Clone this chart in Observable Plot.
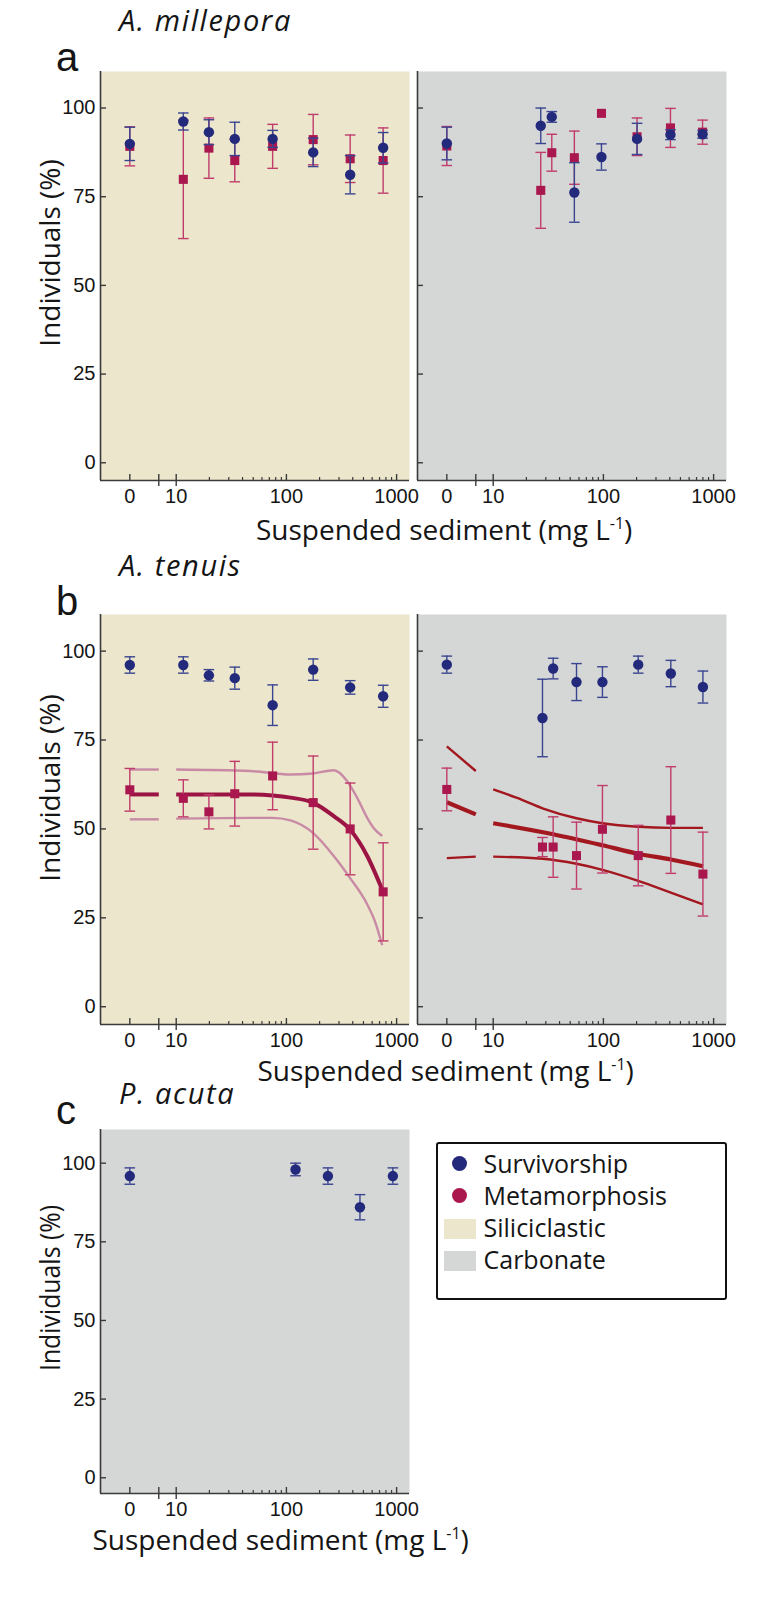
<!DOCTYPE html>
<html>
<head>
<meta charset="utf-8">
<script src="https://cdn.jsdelivr.net/npm/d3@7"></script>
<script src="https://cdn.jsdelivr.net/npm/@observablehq/plot@0.6"></script>
<style>
html,body{margin:0;padding:0;background:#fff;}
#root{position:relative;width:765px;height:1621px;overflow:hidden;background:#fff;}
.abs{position:absolute;white-space:nowrap;color:#151515;}
.title{font-family:"Open Sans",sans-serif;font-style:italic;font-size:29px;line-height:24px;letter-spacing:1.6px;}
.letter{font-family:"Liberation Sans",Arial,sans-serif;font-size:40px;line-height:32px;}
.ylab{font-family:"Open Sans",sans-serif;font-size:28px;line-height:28px;width:300px;height:28px;text-align:center;}
.xlab{font-family:"Open Sans",sans-serif;font-size:28px;line-height:20px;}
.xlab .sup{font-size:16px;position:relative;top:-11px;}
.plot{position:absolute;}
#legend{position:absolute;left:436px;top:1142px;width:291px;height:158px;box-sizing:border-box;border:2.5px solid #111;border-radius:3px;background:#fff;}
#legend .item{position:absolute;font-family:"Open Sans",sans-serif;font-size:25px;line-height:22px;white-space:nowrap;color:#151515;}
#legend .sw{position:absolute;}
</style>
</head>
<body>
<div id="root"></div>
<script>
// ---------------- data ----------------
const yTicks = [0, 25, 50, 75, 100];
const xTickValues = [0, 10, 100, 1000];
const xTickLabels = ["0", "10", "100", "1000"];
const xMinorValues = [20, 30, 40, 50, 60, 70, 80, 90, 200, 300, 400, 500, 600, 700, 800, 900];

// A. millepora — siliciclastic
const milSiliConc = [0, 11.6, 19.8, 34, 75, 175, 379, 755];
const milSiliSurv = [89.9, 96.2, 93.2, 91.3, 91.3, 87.5, 81.2, 88.8];
const milSiliSurvErr = [4.7, 2.4, 3.5, 4.7, 2.4, 4.0, 5.4, 4.3];
const milSiliMeta = [89.2, 79.9, 88.7, 85.2, 89.2, 91.1, 85.7, 85.2];
const milSiliMetaErr = [5.5, 16.7, 8.5, 6.0, 6.2, 7.1, 6.7, 9.2];

// A. millepora — carbonate
const milCarbConc = [0, 27, 34, 54.5, 96, 202, 406, 794];
const milCarbSurv = [90.0, 95.0, 97.5, 76.2, 86.2, 91.3, 92.5, 92.6];
const milCarbSurvErr = [4.6, 5.0, 1.5, 8.4, 3.7, 4.4, 1.4, 1.1];
const milCarbMeta = [89.3, 76.8, 87.4, 86.0, 98.5, 91.9, 94.4, 93.2];
const milCarbMetaErr = [5.5, 10.7, 5.2, 7.5, 0, 5.3, 5.5, 3.4];

// A. tenuis — siliciclastic
const tenSiliConc = [0, 11.6, 19.8, 34, 75, 175, 379, 755];
const tenSiliSurv = [96.1, 96.1, 93.2, 92.4, 84.8, 94.8, 89.8, 87.3];
const tenSiliSurvErr = [2.3, 2.3, 1.6, 3.1, 5.7, 3.0, 1.9, 3.1];
const tenSiliMeta = [61.0, 58.6, 54.8, 59.9, 64.9, 57.4, 50.0, 32.3];
const tenSiliMetaErr = [6.0, 5.2, 4.8, 9.1, 9.5, 13.1, 12.9, 13.8];

// A. tenuis — siliciclastic fitted curve and 95% bands
const tenSiliFitX = [0, "break", 10, 47, 75, 109, 174, 269, 376, 541, 750];
const tenSiliFitY = [59.7, 59.7, 59.7, 59.7, 59.4, 58.8, 57.4, 53.6, 49.9, 42.4, 32.5];
const tenSiliUpX = [0, "break", 10, 47, 109, 174, 269, 355, 438, 541, 621, 740];
const tenSiliUpY = [66.7, 66.7, 66.7, 66.3, 65.3, 65.6, 66.5, 63.5, 58.8, 53.1, 50.2, 48.0];
const tenSiliLoX = [0, "break", 10, 47, 75, 109, 174, 269, 376, 541, 643, 740];
const tenSiliLoY = [52.7, 52.7, 52.9, 53.1, 53.1, 52.4, 48.9, 42.4, 36.3, 28.8, 23.6, 17.3];

// A. tenuis — carbonate
const tenCarbConc = [0, 28, 35, 57, 98, 207, 409, 800];
const tenCarbSurv = [96.2, 81.2, 95.1, 91.3, 91.3, 96.2, 93.7, 89.9];
const tenCarbSurvErr = [2.4, 10.9, 2.9, 5.2, 4.3, 2.4, 3.7, 4.5];
const tenCarbMeta = [61.1, 44.9, 44.9, 42.5, 49.9, 42.5, 52.5, 37.3];
const tenCarbMetaErr = [6.0, 2.7, 8.5, 9.4, 12.3, 8.5, 15.0, 11.8];

// A. tenuis — carbonate fitted line and 95% bands
const tenCarbFitX = [0, "break", 10, 35, 98, 207, 409, 800];
const tenCarbFitY = [57.5, 54.1, 51.6, 48.5, 45.4, 43.0, 41.4, 39.5];
const tenCarbUpX = [0, "break", 10, 16.5, 28, 57, 98, 207, 409, 800];
const tenCarbUpY = [73.2, 66.3, 61.1, 58.7, 55.8, 53.0, 51.6, 50.6, 50.3, 50.3];
const tenCarbLoX = [0, "break", 10, 28, 57, 98, 207, 409, 800];
const tenCarbLoY = [41.8, 42.2, 42.2, 41.6, 40.2, 38.5, 35.4, 32.1, 28.8];

// P. acuta — carbonate
const acuConc = [0, 121, 238, 465, 925];
const acuSurv = [95.9, 98.0, 95.9, 86.0, 95.9];
const acuSurvErr = [2.6, 2.0, 2.6, 4.0, 2.6];

// legend
const legendItems = ["Survivorship", "Metamorphosis", "Siliciclastic", "Carbonate"];

// ---------------- styling ----------------
const SILI_BG = "#ebe6cc";
const CARB_BG = "#d5d6d6";
const NAVY = "#232a7c";
const NAVY_BAR = "#3a4590";
const CRIMSON = "#a9174e";
const CRIMSON_BAR = "#c03c6b";
const AXIS = "#3a3a3a";

// broken log axis: "0" sits left of a break, then log10 scale from 10 upward
const ZERO_POS = 0.579, BREAK_POS = 0.842;
const X_DOMAIN = [0.313, 3.117];
const pos = c => c === 0 ? ZERO_POS : c === "break" ? BREAK_POS : Math.log10(c);
const tickLabel = v => {
  let best = 0;
  xTickValues.forEach((t, i) => { if (Math.abs(pos(t) - v) < Math.abs(pos(xTickValues[best]) - v)) best = i; });
  return xTickLabels[best];
};

const capSymbol = {
  draw(ctx, size) { const r = Math.sqrt(size / Math.PI); ctx.moveTo(-r, 0); ctx.lineTo(r, 0); }
};

function rows(conc, mean, err) {
  return conc.map((c, i) => ({x: pos(c), y: mean[i], lo: mean[i] - err[i], hi: mean[i] + err[i], e: err[i]}));
}
function fitRows(xs, ys) {
  return xs.map((c, i) => ({x: pos(c), y: ys[i], seg: (c === 0 || c === "break") ? 0 : 1}));
}

function panel({bg, conc, surv, survErr, meta, metaErr, fits = [], yDomain, mt, areaH, ml, width, yText}) {
  const S = rows(conc, surv, survErr);
  const M = meta ? rows(conc, meta, metaErr) : [];
  const marks = [Plot.frame({fill: bg, stroke: "none"})];
  for (const f of fits) {
    marks.push(Plot.line(fitRows(f.x, f.y), {x: "x", y: "y", z: "seg", stroke: f.color, strokeWidth: f.width, curve: "monotone-x", strokeLinecap: "butt"}));
  }
  function errMarks(data, color) {
    const d = data.filter(r => r.e > 0);
    return [
      Plot.ruleX(d, {x: "x", y1: "lo", y2: "hi", stroke: color, strokeWidth: 1.4}),
      Plot.dot(d, {x: "x", y: "hi", symbol: capSymbol, r: 5.3, stroke: color, fill: "none", strokeWidth: 1.4}),
      Plot.dot(d, {x: "x", y: "lo", symbol: capSymbol, r: 5.3, stroke: color, fill: "none", strokeWidth: 1.4})
    ];
  }
  if (M.length) {
    marks.push(...errMarks(M, CRIMSON_BAR));
    marks.push(Plot.dot(M, {x: "x", y: "y", symbol: "square", r: 5.1, fill: CRIMSON, stroke: "none"}));
  }
  marks.push(...errMarks(S, NAVY_BAR));
  marks.push(Plot.dot(S, {x: "x", y: "y", symbol: "circle", r: 5.2, fill: NAVY, stroke: "none"}));

  // axes
  marks.push(
    Plot.ruleX([X_DOMAIN[0]], {stroke: AXIS, strokeWidth: 1.6}),
    Plot.ruleY([yDomain[0]], {stroke: AXIS, strokeWidth: 1.6}),
    Plot.axisY({ticks: yTicks, tickSize: -6, stroke: AXIS, strokeWidth: 1.4, fill: "none", label: null}),
    Plot.axisX({ticks: [...xTickValues.map(pos), BREAK_POS], tickSize: -6, stroke: AXIS, strokeWidth: 1.4, fill: "none", label: null}),
    Plot.axisX({ticks: [BREAK_POS, pos(10)], tickSize: 6, stroke: AXIS, strokeWidth: 1.4, fill: "none", label: null}),
    Plot.axisX({ticks: xMinorValues.map(pos), tickSize: -3, stroke: AXIS, strokeWidth: 1.2, fill: "none", label: null}),
    Plot.axisX({ticks: xTickValues.map(pos), tickFormat: tickLabel, tickSize: 0, tickPadding: 8, fontSize: 20, fill: "#151515", label: null})
  );
  if (yText) marks.push(Plot.axisY({ticks: yTicks, tickSize: 0, tickPadding: 5, fontSize: 20, fill: "#151515", label: null}));

  return Plot.plot({
    width, height: mt + areaH + 32,
    marginTop: mt, marginBottom: 32, marginLeft: ml, marginRight: width - ml - 309,
    x: {type: "linear", domain: X_DOMAIN, label: null},
    y: {type: "linear", domain: yDomain, label: null},
    style: {background: "transparent", overflow: "visible", fontFamily: "'Liberation Sans', Arial, sans-serif"},
    marks
  });
}

const root = document.getElementById("root");
function place(node, left, top) {
  node.classList.add("plot");
  node.style.left = left + "px"; node.style.top = top + "px";
  root.appendChild(node);
}
// baseline offset for a line box of height L: L/2 + fs*(asc - desc)/2
function text(cls, html, left, baseline, fs, L, asc, desc) {
  const d = document.createElement("div");
  d.className = "abs " + cls;
  d.innerHTML = html;
  d.style.left = left + "px";
  d.style.top = (baseline - (L / 2 + fs * (asc - desc) / 2)) + "px";
  root.appendChild(d);
}
function ylab(cx, cy, squash) {
  const d = document.createElement("div");
  d.className = "abs ylab";
  d.textContent = "Individuals (%)";
  d.style.left = (cx - 150) + "px";
  d.style.top = (cy - 14) + "px";
  d.style.transform = "rotate(-90deg) scaleX(" + squash + ")";
  root.appendChild(d);
}
const OA = 1.069, OD = 0.293, LA = 0.905, LD = 0.212;
const XLAB = 'Suspended sediment (mg L<span class="sup">-1</span>)';

// Panel a
const YD_AB = [-5, 110.3];
place(panel({bg: SILI_BG, conc: milSiliConc, surv: milSiliSurv, survErr: milSiliSurvErr, meta: milSiliMeta, metaErr: milSiliMetaErr,
  yDomain: YD_AB, mt: 11, areaH: 409, ml: 100, width: 430, yText: true}), 0, 60);
place(panel({bg: CARB_BG, conc: milCarbConc, surv: milCarbSurv, survErr: milCarbSurvErr, meta: milCarbMeta, metaErr: milCarbMetaErr,
  yDomain: YD_AB, mt: 11, areaH: 409, ml: 17, width: 355, yText: false}), 400, 60);

// Panel b
place(panel({bg: SILI_BG, conc: tenSiliConc, surv: tenSiliSurv, survErr: tenSiliSurvErr, meta: tenSiliMeta, metaErr: tenSiliMetaErr,
  fits: [
    {x: tenSiliUpX, y: tenSiliUpY, color: "#c98aa5", width: 2.4},
    {x: tenSiliLoX, y: tenSiliLoY, color: "#c98aa5", width: 2.4},
    {x: tenSiliFitX, y: tenSiliFitY, color: "#9c1443", width: 4}
  ],
  yDomain: YD_AB, mt: 10, areaH: 410, ml: 100, width: 430, yText: true}), 0, 604);
place(panel({bg: CARB_BG, conc: tenCarbConc, surv: tenCarbSurv, survErr: tenCarbSurvErr, meta: tenCarbMeta, metaErr: tenCarbMetaErr,
  fits: [
    {x: tenCarbUpX, y: tenCarbUpY, color: "#a3171f", width: 2.4},
    {x: tenCarbLoX, y: tenCarbLoY, color: "#a3171f", width: 2.4},
    {x: tenCarbFitX, y: tenCarbFitY, color: "#a3171f", width: 4.2}
  ],
  yDomain: YD_AB, mt: 10, areaH: 410, ml: 17, width: 355, yText: false}), 400, 604);

// Panel c
place(panel({bg: CARB_BG, conc: acuConc, surv: acuSurv, survErr: acuSurvErr,
  yDomain: [-5, 110.7], mt: 10, areaH: 364, ml: 100, width: 430, yText: true}), 0, 1119);

// Titles, letters, axis labels
text("title", "A. millepora", 119, 31, 29, 24, OA, OD);
text("title", "A. tenuis", 119, 576, 29, 24, OA, OD);
text("title", "P. acuta", 119, 1104.5, 29, 24, OA, OD);
text("letter", "a", 56, 70.7, 40, 32, LA, LD);
text("letter", "b", 56, 615, 40, 32, LA, LD);
text("letter", "c", 56, 1123.5, 40, 32, LA, LD);
ylab(49, 252.5, 1);
ylab(49, 788, 1);
ylab(49, 1288, 0.886);
text("xlab", XLAB, 256, 540, 28, 20, OA, OD);
text("xlab", XLAB, 257.5, 1080.5, 28, 20, OA, OD);
text("xlab", XLAB, 92.5, 1549.5, 28, 20, OA, OD);

// Legend
const legendSwatch = [{c: NAVY, dot: true}, {c: CRIMSON, dot: true}, {c: SILI_BG}, {c: CARB_BG}];
const lg = document.createElement("div");
lg.id = "legend";
root.appendChild(lg);
const L0 = 436 + 2.5, T0 = 1142 + 2.5;
const baselines = [1172.7, 1205, 1237.3, 1269];
legendItems.forEach((label, i) => {
  const it = document.createElement("div");
  it.className = "item";
  it.textContent = label;
  it.style.left = (484 - L0) + "px";
  it.style.top = (baselines[i] - (11 + 25 * (OA - OD) / 2) - T0) + "px";
  lg.appendChild(it);
  const sw = document.createElement("div");
  sw.className = "sw";
  sw.style.background = legendSwatch[i].c;
  if (legendSwatch[i].dot) {
    const cy = baselines[i] - 8.7;
    sw.style.width = "15px"; sw.style.height = "15px"; sw.style.borderRadius = "50%";
    sw.style.left = (460 - 7.5 - L0) + "px"; sw.style.top = (cy - 7.5 - T0) + "px";
  } else {
    sw.style.width = "32px"; sw.style.height = "20px";
    sw.style.left = (444.3 - L0) + "px"; sw.style.top = (baselines[i] - 18 - T0) + "px";
  }
  lg.appendChild(sw);
});
</script>
</body>
</html>
